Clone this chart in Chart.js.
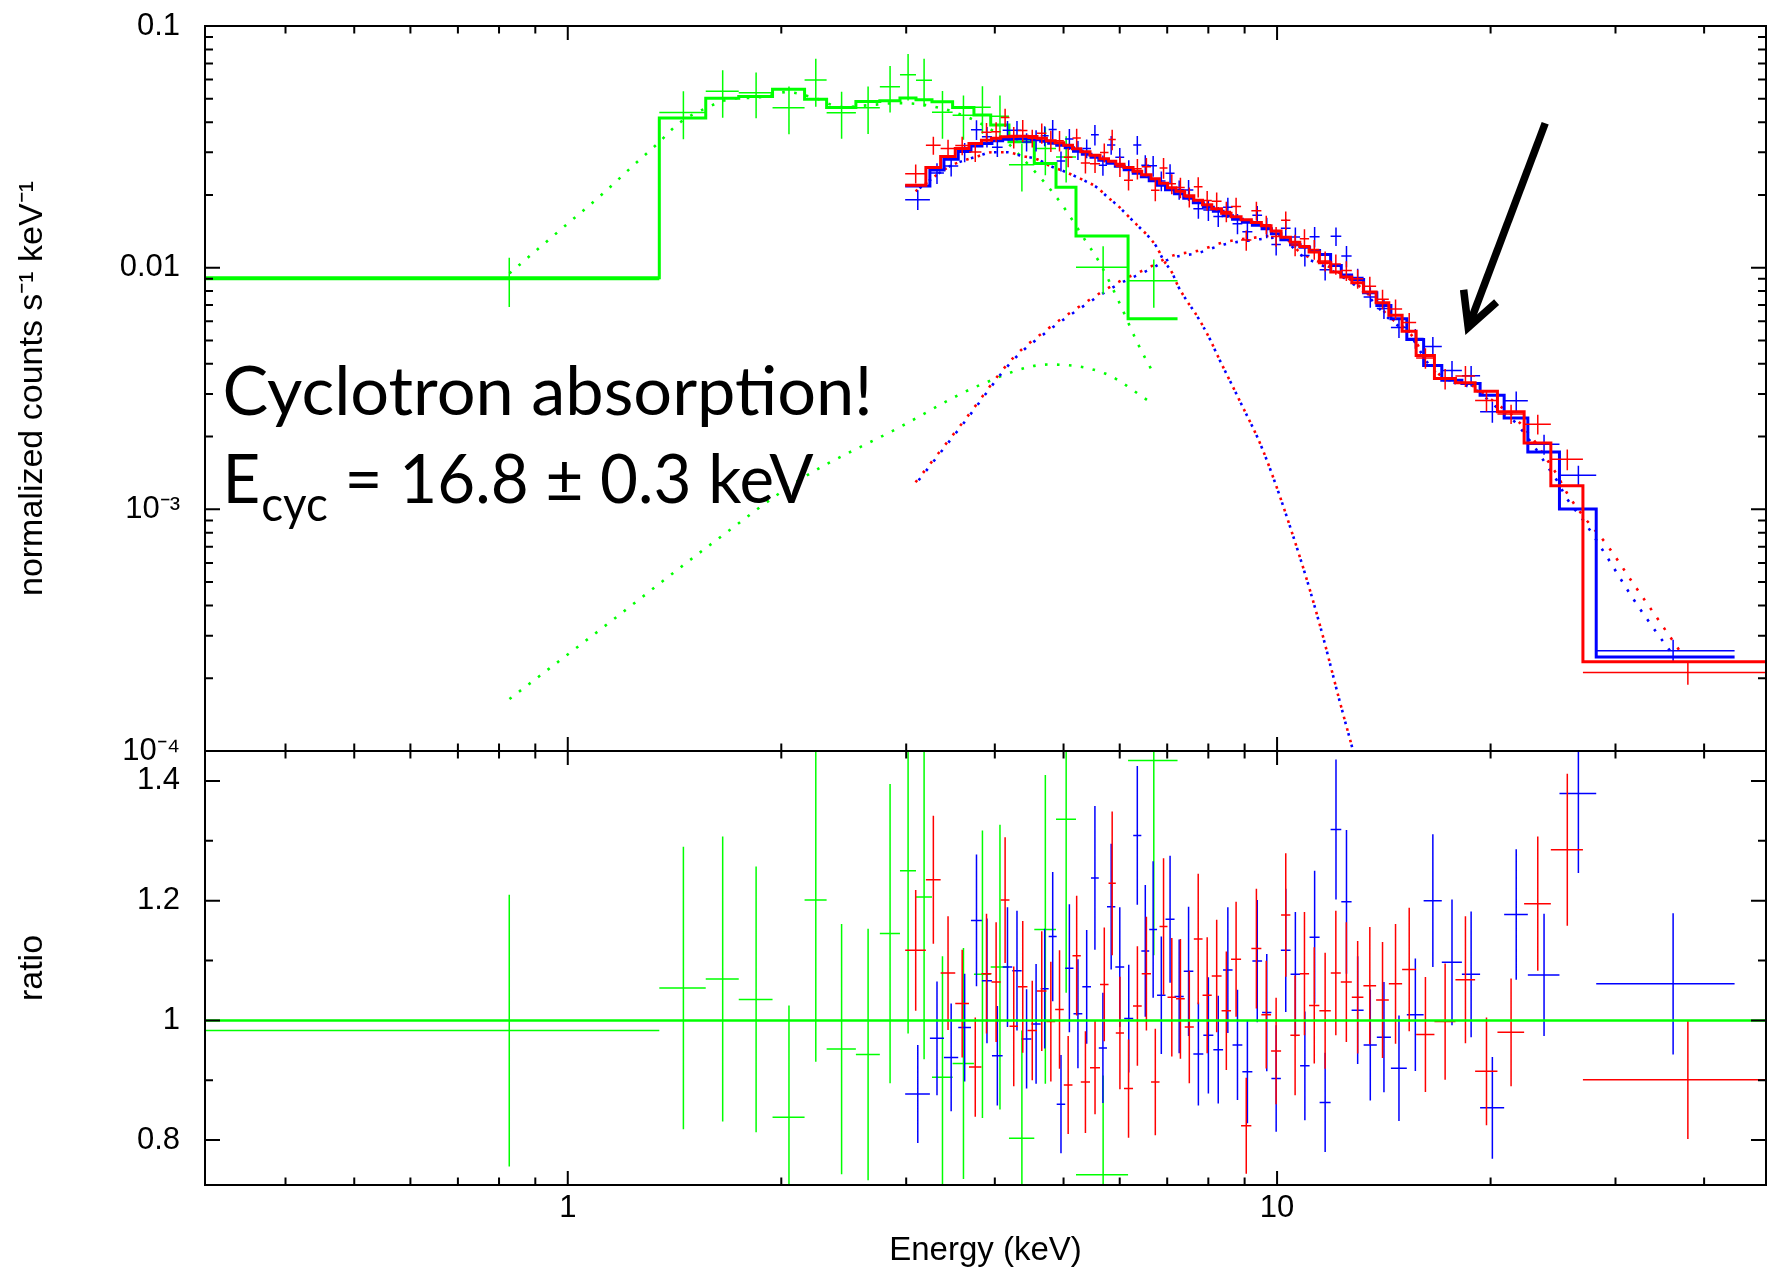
<!DOCTYPE html>
<html>
<head>
<meta charset="utf-8">
<script src="https://cdn.jsdelivr.net/npm/chart.js@4.4.1/dist/chart.umd.min.js"></script>
<style>
html,body{margin:0;padding:0;background:#fff;}
#wrap{position:relative;width:1768px;height:1271px;overflow:hidden;}
canvas{position:absolute;left:0;top:0;}
</style>
</head>
<body>
<div id="wrap">
<canvas id="cTop" width="1768" height="1271"></canvas>
<canvas id="cBot" width="1768" height="1271"></canvas>
</div>
<script>
// ---------------- axis ranges & ticks ----------------
const xRange = [0.308, 48.9];
const xMajorTicks = [1, 10];
const xTickLabels = ['1', '10'];
const xMinorTicks = [0.4,0.5,0.6,0.7,0.8,0.9,2,3,4,5,6,7,8,9,20,30,40];

const topYRange = [1e-4, 0.1];
const topYTicks = [0.1, 0.01, 0.001, 0.0001];
const topYTickLabels = ['0.1', '0.01', '10\u207B\u00B3', '10\u207B\u2074'];
const topYMinor = [2e-4,3e-4,4e-4,5e-4,6e-4,7e-4,8e-4,9e-4,2e-3,3e-3,4e-3,5e-3,6e-3,7e-3,8e-3,9e-3,0.02,0.03,0.04,0.05,0.06,0.07,0.08,0.09];

const botYRange = [0.725, 1.45];
const botYTicks = [0.8, 1, 1.2, 1.4];
const botYTickLabels = ['0.8', '1', '1.2', '1.4'];
const botYMinor = [0.9, 1.1, 1.3];

// ---------------- green spectrum (bins, model, ratio) ----------------
const greenEdges = [0.308, 1.346, 1.565, 1.742, 1.944, 2.157, 2.317, 2.548, 2.754, 2.940, 3.097, 3.262, 3.488, 3.738, 3.947, 4.188, 4.547, 4.879, 5.206, 6.165, 7.239];
const greenModel = [0.00909, 0.0416, 0.0502, 0.0511, 0.0548, 0.0498, 0.0460, 0.0487, 0.0490, 0.0503, 0.0495, 0.0486, 0.0460, 0.0428, 0.0389, 0.0332, 0.0270, 0.0215, 0.01352, 0.00615];
const greenRatio = [0.983, 1.054, 1.069, 1.035, 0.838, 1.201, 0.952, 0.943, 1.145, 1.250, 1.206, 0.905, 0.928, 1.077, 1.089, 0.803, 1.152, 1.336, 0.742, 1.434];
const greenRatioErr = [0.227, 0.236, 0.238, 0.222, 0.187, 0.27, 0.209, 0.21, 0.25, 0.272, 0.271, 0.202, 0.193, 0.24, 0.238, 0.18, 0.258, 0.29, 0.166, 0.325];

// ---------------- red spectrum ----------------
const redEdges = [2.990, 3.198, 3.355, 3.518, 3.678, 3.830, 3.957, 4.077, 4.195, 4.312, 4.447, 4.587, 4.730, 4.866, 5.004, 5.147, 5.288, 5.448, 5.628, 5.786, 5.924, 6.084, 6.265, 6.444, 6.642, 6.828, 7.007, 7.204, 7.410, 7.632, 7.851, 8.089, 8.351, 8.612, 8.897, 9.199, 9.503, 9.807, 10.131, 10.441, 10.765, 11.095, 11.472, 11.905, 12.298, 12.746, 13.235, 13.792, 14.373, 15.007, 15.706, 16.667, 17.844, 19.02, 20.45, 22.30, 24.32, 26.99, 48.9];
const redModel = [0.02193, 0.02597, 0.02884, 0.03113, 0.03265, 0.0337, 0.03435, 0.03484, 0.03501, 0.03501, 0.03491, 0.03435, 0.03354, 0.0329, 0.03212, 0.03107, 0.03019, 0.0292, 0.02824, 0.02758, 0.0268, 0.02597, 0.02506, 0.02424, 0.02333, 0.02236, 0.02142, 0.02072, 0.01984, 0.01901, 0.01821, 0.01753, 0.01679, 0.01624, 0.01578, 0.01537, 0.01491, 0.01418, 0.01335, 0.01273, 0.01222, 0.01161, 0.01049, 0.009589, 0.009142, 0.008666, 0.007924, 0.007158, 0.006362, 0.005461, 0.00433, 0.003477, 0.003338, 0.003081, 0.002531, 0.001883, 0.001253, 0.0002343];
const redRatio = [1.117, 1.235, 1.079, 1.028, 0.922, 1.078, 1.064, 1.201, 0.99, 1.056, 0.983, 1.049, 0.998, 1.018, 0.892, 1.108, 0.897, 0.921, 1.06, 1.229, 0.979, 0.886, 1.024, 1.078, 0.897, 1.157, 1.0385, 1.036, 0.989, 1.136, 1.042, 1.074, 1.016, 1.102, 0.824, 1.12, 1.0095, 0.949, 1.176, 0.975, 1.078, 1.025, 1.016, 1.079, 1.064, 1.0385, 1.058, 1.034, 1.061, 1.085, 0.9765, 0.998, 1.068, 0.915, 0.98, 1.195, 1.285, 0.901];
const redRatioErr = [0.101, 0.107, 0.095, 0.09, 0.083, 0.1, 0.1, 0.105, 0.1, 0.11, 0.083, 0.1, 0.1, 0.099, 0.082, 0.1, 0.085, 0.078, 0.095, 0.12, 0.094, 0.082, 0.1, 0.095, 0.089, 0.114, 0.099, 0.1, 0.094, 0.109, 0.097, 0.094, 0.099, 0.096, 0.08, 0.1, 0.09, 0.089, 0.103, 0.1, 0.103, 0.097, 0.097, 0.104, 0.1, 0.094, 0.098, 0.097, 0.1, 0.103, 0.096, 0.097, 0.106, 0.09, 0.09, 0.112, 0.127, 0.099];

// ---------------- blue spectrum ----------------
const blueEdges = [2.990, 3.240, 3.391, 3.552, 3.702, 3.836, 3.963, 4.103, 4.233, 4.364, 4.505, 4.642, 4.764, 4.890, 5.027, 5.164, 5.314, 5.466, 5.606, 5.757, 5.915, 6.088, 6.269, 6.436, 6.603, 6.773, 6.962, 7.169, 7.386, 7.620, 7.871, 8.131, 8.392, 8.654, 8.934, 9.229, 9.525, 9.817, 10.124, 10.448, 10.776, 11.113, 11.480, 11.898, 12.318, 12.737, 13.244, 13.824, 14.471, 15.238, 16.093, 17.07, 18.22, 19.33, 20.90, 22.57, 25.01, 28.18, 44.16];
const blueModel = [0.02179, 0.02538, 0.02811, 0.03043, 0.03191, 0.03265, 0.03347, 0.03402, 0.03418, 0.03418, 0.03385, 0.03337, 0.03275, 0.03212, 0.03137, 0.03034, 0.02948, 0.02865, 0.02784, 0.02705, 0.02629, 0.02543, 0.02459, 0.02378, 0.0229, 0.02193, 0.02101, 0.02022, 0.01937, 0.01856, 0.01778, 0.01711, 0.01639, 0.01586, 0.01541, 0.01498, 0.01448, 0.01381, 0.01304, 0.01243, 0.01214, 0.01179, 0.01135, 0.01022, 0.009318, 0.008943, 0.007879, 0.006976, 0.006147, 0.005046, 0.003936, 0.003422, 0.003316, 0.002966, 0.00239, 0.001728, 0.001003, 0.000245];
const blueRatio = [0.877, 0.970, 0.938, 0.988, 1.167, 1.066, 0.941, 1.089, 1.083, 0.969, 0.994, 1.053, 1.140, 0.860, 1.087, 1.011, 1.056, 1.238, 0.954, 1.19, 1.089, 1.003, 1.309, 1.116, 1.152, 1.042, 1.169, 1.040, 1.082, 0.944, 0.975, 0.951, 1.084, 0.959, 0.914, 1.099, 1.013, 0.903, 1.117, 1.077, 0.924, 1.139, 0.863, 1.319, 1.198, 1.017, 0.959, 0.972, 0.92, 1.0095, 1.2, 1.097, 1.077, 0.854, 1.177, 1.076, 1.379, 1.061];
const blueRatioErr = [0.082, 0.095, 0.09, 0.09, 0.11, 0.104, 0.083, 0.1, 0.1, 0.083, 0.1, 0.1, 0.108, 0.082, 0.107, 0.091, 0.095, 0.12, 0.092, 0.105, 0.1, 0.09, 0.116, 0.11, 0.114, 0.098, 0.106, 0.095, 0.108, 0.086, 0.097, 0.09, 0.105, 0.092, 0.086, 0.102, 0.098, 0.089, 0.103, 0.104, 0.091, 0.111, 0.083, 0.117, 0.12, 0.09, 0.093, 0.092, 0.088, 0.094, 0.111, 0.105, 0.105, 0.085, 0.109, 0.102, 0.133, 0.118];

// ---------------- model components (dotted) ----------------
const greenCompAE = [0.8275, 0.9743, 1.1276, 1.250, 1.3408, 1.4355, 1.5553, 1.6962, 1.8533, 2.0347, 2.2304, 2.4322, 2.6666, 2.9207, 3.198, 3.4954, 3.812, 4.1077, 4.386, 4.6813, 4.9697, 5.3613, 5.628, 5.9936, 6.3541, 6.6733];
const greenCompAF = [0.00947, 0.01427, 0.02057, 0.02724, 0.03275, 0.03963, 0.0453, 0.04984, 0.05066, 0.05327, 0.05032, 0.04617, 0.04706, 0.04797, 0.04706, 0.04415, 0.03963, 0.03425, 0.02811, 0.02285, 0.0183, 0.01302, 0.01042, 0.007158, 0.004889, 0.003717];
const greenCompBE = [0.8275, 1.1095, 1.6014, 2.1245, 2.9302, 3.8244, 4.764, 5.7213, 6.6733];
const greenCompBF = [1.641e-4, 3.169e-4, 7.27e-4, 1.3265e-3, 2.179e-3, 3.283e-3, 3.975e-3, 3.647e-3, 2.739e-3];

const redHardE = [3.0924, 3.6307, 4.2461, 4.7335, 5.3041, 5.9741, 6.5508, 7.1413, 7.7037, 8.4447, 9.3627, 10.098, 10.776, 11.88, 13.222, 14.434, 15.399, 16.262, 17.162, 17.926, 18.917, 19.758, 20.631, 21.543, 22.99, 24.015, 24.808, 25.627, 27.043, 29.174, 31.643, 34.235, 37.026];
const redHardF = [1.294e-3, 2.351e-3, 4.237e-3, 5.535e-3, 7.009e-3, 8.716e-3, 9.905e-3, 0.011243, 0.011714, 0.012766, 0.01335, 0.013608, 0.01159, 0.010029, 8.13e-3, 6.224e-3, 5.35e-3, 4.169e-3, 3.5e-3, 3.389e-3, 3.231e-3, 2.937e-3, 2.669e-3, 2.427e-3, 1.943e-3, 1.606e-3, 1.391e-3, 1.168e-3, 9.346e-4, 7.133e-4, 5.025e-4, 3.598e-4, 2.576e-4];
const blueHardE = [3.0924, 3.6307, 4.2461, 4.7335, 5.3041, 5.9741, 6.5508, 7.1413, 7.7037, 8.4447, 9.3627, 10.098, 10.776, 11.88, 13.222, 14.434, 15.399, 16.262, 17.162, 17.926, 18.917, 19.758, 20.631, 21.543, 22.99, 24.015, 24.808, 25.627, 27.043, 29.174, 31.643, 34.235, 36.17];
const blueHardF = [1.27e-3, 2.31e-3, 4.15e-3, 5.42e-3, 6.86e-3, 8.53e-3, 9.7e-3, 0.01101, 0.01147, 0.0125, 0.01307, 0.01332, 0.01135, 0.00982, 7.96e-3, 6.09e-3, 5.24e-3, 4.08e-3, 3.43e-3, 3.32e-3, 3.16e-3, 2.87e-3, 2.563e-3, 2.33e-3, 1.835e-3, 1.516e-3, 1.314e-3, 1.106e-3, 8.97e-4, 6.362e-4, 4.342e-4, 3.109e-4, 2.496e-4];
const softCompE = [3.0924, 3.4584, 3.7873, 3.963, 4.1613, 4.3676, 4.587, 4.7841, 4.9908, 5.3613, 5.5749, 5.757, 5.9683, 6.165, 6.3686, 6.5784, 6.773, 6.9064, 7.1111, 7.2511, 7.466, 7.6611, 7.8374, 8.0446, 8.2295, 8.8692, 9.5557, 10.776, 11.499, 12.273, 12.802];
const softCompF = [0.02072, 0.02629, 0.02892, 0.03005, 0.03005, 0.029, 0.02811, 0.02637, 0.02514, 0.02285, 0.02146, 0.01969, 0.018, 0.01636, 0.01487, 0.01352, 0.0121, 0.01082, 0.009535, 0.00839, 0.00727, 0.006509, 0.005822, 0.005046, 0.004371, 0.002792, 0.001749, 6.302e-4, 3.293e-4, 1.58e-4, 1.0e-4];

// ---------------- annotation (data coordinates) ----------------
const noteLine1 = 'Cyclotron absorption!';
const noteLine2Main = 'E';
const noteLine2Sub = 'cyc';
const noteLine2Rest = ' = 16.8 \u00B1 0.3 keV';
const notePos = {x: 0.326, y1: 2.466e-3, y2: 1.065e-3};
const arrowTail = {x: 23.88, y: 0.0396};
const arrowTip = {x: 18.6, y: 5.66e-3};

// ---------------- styles ----------------
const RED = '#ff0000', BLUE = '#0000ff', GREEN = '#00ff00';
Chart.defaults.font.family = '"Liberation Sans", Arial, Helvetica, sans-serif';
Chart.defaults.color = '#000';

// ---------------- helpers ----------------
function binCenters(edges){ return edges.slice(0,-1).map((lo,i)=>(lo+edges[i+1])/2); }
function stepLine(edges, vals){
  const p=[]; vals.forEach((v,i)=>{ p.push({x:edges[i],y:v},{x:edges[i+1],y:v}); }); return p;
}
function crosses(edges, ys, errs){
  const c = binCenters(edges), p=[];
  ys.forEach((y,i)=>{
    p.push({x:edges[i],y:y},{x:edges[i+1],y:y},{x:edges[i+1],y:null},
           {x:c[i],y:y-errs[i]},{x:c[i],y:y+errs[i]},{x:c[i],y:null});
  });
  return p;
}
function curve(es, fs){ return es.map((x,i)=>({x:x,y:fs[i]})); }
function times(a,b){ return a.map((v,i)=>v*b[i]); }
function ds(data, color, width, extra){
  return Object.assign({data:data, borderColor:color, backgroundColor:color, borderWidth:width,
    pointRadius:0, pointHoverRadius:0, fill:false, tension:0, spanGaps:false}, extra||{});
}
function dotted(data, color, offset){
  return ds(data, color, 2.6, {borderDash:[2.6, 9.4], borderDashOffset:offset, cubicInterpolationMode:'monotone'});
}
function labelFrom(vals, labels){
  return (v)=>{ for(let i=0;i<vals.length;i++){ if(Math.abs(v/vals[i]-1)<1e-6) return labels[i]; } return ''; };
}
function fixY(s){ s.width = 205; s.paddingTop = 0; s.paddingBottom = 0; }

function makeFrame(yMajor, yMinor){
  return {
    id:'frame',
    afterDatasetsDraw(chart){
      const {ctx, chartArea:a} = chart, xs = chart.scales.x, ys = chart.scales.y;
      ctx.save();
      ctx.strokeStyle = '#000';
      ctx.lineWidth = 2;
      ctx.strokeRect(a.left, a.top, a.right-a.left, a.bottom-a.top);
      ctx.beginPath();
      const tx=(vals,len)=>vals.forEach(v=>{const p=xs.getPixelForValue(v);
        ctx.moveTo(p,a.bottom); ctx.lineTo(p,a.bottom-len); ctx.moveTo(p,a.top); ctx.lineTo(p,a.top+len);});
      const ty=(vals,len)=>vals.forEach(v=>{const p=ys.getPixelForValue(v);
        ctx.moveTo(a.left,p); ctx.lineTo(a.left+len,p); ctx.moveTo(a.right,p); ctx.lineTo(a.right-len,p);});
      tx(xMajorTicks,14); tx(xMinorTicks,7.5); ty(yMajor,15); ty(yMinor,8);
      ctx.stroke();
      ctx.restore();
    }
  };
}

const annotation = {
  id:'note',
  afterDatasetsDraw(chart){
    const {ctx} = chart, xs = chart.scales.x, ys = chart.scales.y;
    ctx.save();
    ctx.fillStyle = '#000';
    ctx.textBaseline = 'alphabetic';
    ctx.textAlign = 'left';
    const fam = 'Lato, "Open Sans", sans-serif';
    ctx.font = '100px ' + fam;
    const S = 100 * 650 / ctx.measureText(noteLine1).width;
    const x0 = xs.getPixelForValue(notePos.x);
    const y1 = ys.getPixelForValue(notePos.y1), y2 = ys.getPixelForValue(notePos.y2);
    const big = S.toFixed(1)+'px ' + fam, small = (0.7*S).toFixed(1)+'px ' + fam;
    ctx.font = big;
    ctx.fillText(noteLine1, x0, y1);
    // second line, horizontally condensed to the reference width
    const wE = ctx.measureText(noteLine2Main).width;
    const wR = ctx.measureText(noteLine2Rest).width;
    ctx.font = small;
    const wS = ctx.measureText(noteLine2Sub).width;
    const f = 591 / (wE + 1 + wS + wR);
    ctx.translate(x0, y2);
    ctx.scale(f, 1);
    ctx.font = big;
    ctx.fillText(noteLine2Main, 0, 0);
    ctx.font = small;
    ctx.fillText(noteLine2Sub, wE + 1, 0.27*S);
    ctx.font = big;
    ctx.fillText(noteLine2Rest, wE + 1 + wS, 0);
    ctx.setTransform(1,0,0,1,0,0);
    // arrow
    const tip = {x: xs.getPixelForValue(arrowTip.x), y: ys.getPixelForValue(arrowTip.y)};
    const tail = {x: xs.getPixelForValue(arrowTail.x), y: ys.getPixelForValue(arrowTail.y)};
    const ang = Math.atan2(tail.y-tip.y, tail.x-tip.x), spread = 27.6*Math.PI/180, L = 38;
    ctx.strokeStyle = '#000'; ctx.lineWidth = 7.5; ctx.lineCap = 'butt'; ctx.lineJoin = 'miter';
    ctx.beginPath(); ctx.moveTo(tail.x, tail.y); ctx.lineTo(tip.x, tip.y); ctx.stroke();
    ctx.beginPath();
    ctx.moveTo(tip.x + L*Math.cos(ang-spread), tip.y + L*Math.sin(ang-spread));
    ctx.lineTo(tip.x, tip.y);
    ctx.lineTo(tip.x + L*Math.cos(ang+spread), tip.y + L*Math.sin(ang+spread));
    ctx.stroke();
    ctx.restore();
  }
};

const common = {
  responsive:false, maintainAspectRatio:false, animation:false, devicePixelRatio:1, events:[],
  plugins:{legend:{display:false}, tooltip:{enabled:false}}
};

// ---------------- top panel ----------------
new Chart(document.getElementById('cTop'), {
  type:'line',
  data:{datasets:[
    ds(stepLine(redEdges, redModel), RED, 3),
    ds(crosses(redEdges, times(redRatio, redModel), times(redRatioErr, redModel)), RED, 1.5),
    ds(stepLine(blueEdges, blueModel), BLUE, 3),
    ds(crosses(blueEdges, times(blueRatio, blueModel), times(blueRatioErr, blueModel)), BLUE, 1.5),
    ds(stepLine(greenEdges, greenModel), GREEN, 3),
    ds(crosses(greenEdges, times(greenRatio, greenModel), times(greenRatioErr, greenModel)), GREEN, 1.5),
    dotted(curve(redHardE, redHardF), RED, 0),
    dotted(curve(blueHardE, blueHardF), BLUE, -5),
    dotted(curve(softCompE, softCompF), RED, 0),
    dotted(curve(softCompE, softCompF), BLUE, -5),
    dotted(curve(greenCompAE, greenCompAF), GREEN, 0),
    dotted(curve(greenCompBE, greenCompBF), GREEN, 0)
  ]},
  options:Object.assign({}, common, {
    layout:{padding:{top:26, bottom:520, left:0, right:2}},
    scales:{
      x:{type:'logarithmic', bounds:'data', min:xRange[0], max:xRange[1], display:false,
        afterBuildTicks:(s)=>{ s.min = xRange[0]; s.max = xRange[1]; }},
      y:{type:'logarithmic', bounds:'data', min:topYRange[0], max:topYRange[1],
        afterFit:fixY,
        afterBuildTicks:(s)=>{ s.ticks = topYTicks.map(v=>({value:v})); s.min = topYRange[0]; s.max = topYRange[1]; },
        grid:{display:false, drawTicks:false}, border:{display:false},
        ticks:{autoSkip:false, padding:25, color:'#000', font:{size:31}, callback:labelFrom(topYTicks, topYTickLabels)},
        title:{display:true, text:'normalized counts s\u207B\u00B9 keV\u207B\u00B9', color:'#000', font:{size:34}, padding:{top:12, bottom:0}}
      }
    }
  }),
  plugins:[makeFrame(topYTicks, topYMinor), annotation]
});

// ---------------- bottom panel ----------------
new Chart(document.getElementById('cBot'), {
  type:'line',
  data:{datasets:[
    ds([{x:xRange[0], y:1}, {x:xRange[1], y:1}], GREEN, 2.5),
    ds(crosses(redEdges, redRatio, redRatioErr), RED, 1.5),
    ds(crosses(blueEdges, blueRatio, blueRatioErr), BLUE, 1.5),
    ds(crosses(greenEdges, greenRatio, greenRatioErr), GREEN, 1.5)
  ]},
  options:Object.assign({}, common, {
    layout:{padding:{top:751, bottom:0, left:0, right:2}},
    scales:{
      x:{type:'logarithmic', bounds:'data', min:xRange[0], max:xRange[1],
        afterFit:(s)=>{ s.height = 86; },
        afterBuildTicks:(s)=>{ s.ticks = xMajorTicks.map(v=>({value:v})); s.min = xRange[0]; s.max = xRange[1]; },
        grid:{display:false, drawTicks:false}, border:{display:false},
        ticks:{autoSkip:false, maxRotation:0, padding:5, color:'#000', font:{size:31}, callback:labelFrom(xMajorTicks, xTickLabels)},
        title:{display:true, text:'Energy (keV)', color:'#000', font:{size:33}, padding:{top:0, bottom:0}}
      },
      y:{type:'linear', bounds:'data', min:botYRange[0], max:botYRange[1],
        afterFit:fixY,
        afterBuildTicks:(s)=>{ s.ticks = botYTicks.map(v=>({value:v})); s.min = botYRange[0]; s.max = botYRange[1]; },
        grid:{display:false, drawTicks:false}, border:{display:false},
        ticks:{autoSkip:false, padding:25, color:'#000', font:{size:31}, callback:labelFrom(botYTicks, botYTickLabels)},
        title:{display:true, text:'ratio', color:'#000', font:{size:34}, padding:{top:12, bottom:0}}
      }
    }
  }),
  plugins:[makeFrame(botYTicks, botYMinor)]
});
</script>
</body>
</html>
